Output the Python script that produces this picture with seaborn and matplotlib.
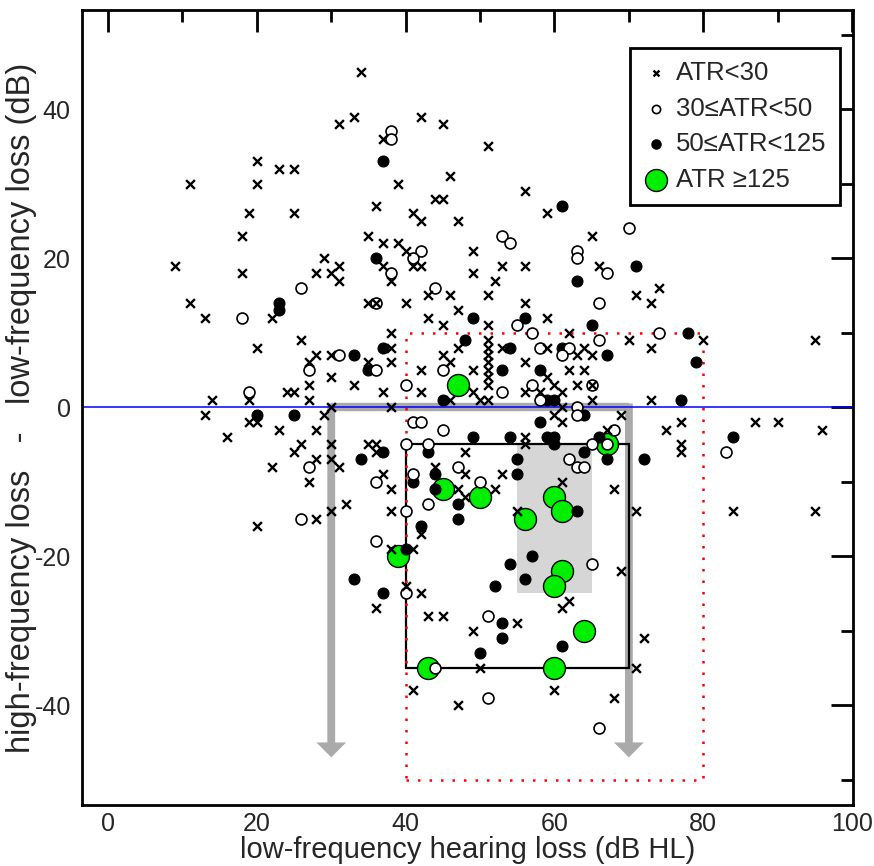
import matplotlib
matplotlib.use("Agg")
import matplotlib.pyplot as plt
import seaborn as sns
import pandas as pd
from matplotlib.patches import Rectangle
from matplotlib.ticker import MultipleLocator

# ---- data: (low-frequency loss, high-minus-low loss) ----
atr_lt30 = [
    (34, 45), (31, 38), (33, 39), (42, 39), (45, 38), (37, 36), (51, 35), (39, 30), (46, 31),
    (56, 29), (36, 27), (44, 28), (45, 28), (11, 30), (20, 33), (20, 30), (23, 32), (25, 32),
    (19, 26), (25, 26), (18, 23), (9, 19), (18, 18), (29, 20), (28, 18), (30, 18), (31, 19),
    (31, 17), (11, 14), (13, 12), (22, 12), (20, 8), (26, 9), (28, 7), (27, 6), (30, 7), (30, 4),
    (27, 3), (24, 2), (25, 2), (14, 1), (19, 1), (27, 1), (13, -1), (19, -2), (20, -2), (29, -1),
    (30, 0), (23, -3), (28, -3), (16, -4), (26, -5), (25, -6), (30, -5), (28, -7), (30, -7),
    (31, -8), (22, -8), (27, -10), (28, -15), (30, -14), (20, -16),
    (41, 26), (42, 25), (47, 25), (59, 26), (35, 23), (37, 22), (39, 22), (40, 21), (41, 19),
    (42, 19), (37, 19), (38, 17), (49, 21), (49, 18), (53, 19), (56, 19), (52, 17), (43, 15),
    (46, 15), (51, 15), (35, 14), (36, 14), (40, 14), (56, 14), (47, 13), (43, 12), (59, 12),
    (45, 11), (51, 11), (38, 10), (62, 10), (47, 8), (51, 9), (51, 8), (51, 7), (51, 6), (51, 5),
    (51, 4), (51, 3), (38, 8), (53, 8), (59, 8), (63, 7), (64, 8), (65, 7), (35, 6), (38, 6),
    (45, 7), (46, 6), (42, 5), (49, 5), (59, 4), (60, 3), (61, 2), (62, 5), (64, 5), (56, 6),
    (56, 2), (63, 3), (33, 3), (37, 2), (42, 2), (49, 2), (58, 2), (65, 3),
    (46, 1), (50, 1), (51, 1), (61, 0), (60, -1), (61, -2), (38, 0), (56, -4), (56, -5), (48, -6),
    (35, -5), (36, -5), (36, -6), (48, -9), (53, -9), (44, -8), (37, -9), (38, -11), (47, -11),
    (48, -12), (52, -11), (32, -13), (38, -14), (42, -17), (61, -10), (55, -14), (38, -19),
    (41, -19), (40, -24), (42, -25), (62, -26),
    (36, -27), (43, -28), (45, -28), (55, -29), (49, -30), (50, -35), (61, -27), (41, -38),
    (47, -40), (60, -38), (72, -31), (71, -35), (68, -39),
    (65, 1), (73, 1), (69, -1), (67, -3), (75, -3), (77, -2), (77, -5), (77, -6), (87, -2),
    (90, -2), (96, -3), (68, -11), (71, -14), (84, -14), (95, -14), (69, -22),
    (65, 23), (66, 19), (74, 16), (71, 15), (73, 14), (70, 9), (80, 9), (73, 8), (95, 9),
]
atr_30_50 = [
    (38, 37), (38, 36), (26, 16), (18, 12), (27, 5), (19, 2), (31, 7), (27, -8), (26, -15),
    (53, 23), (54, 22), (42, 21), (41, 20), (38, 18), (44, 16), (36, 14), (55, 11), (57, 10),
    (58, 8), (62, 8), (61, 7), (36, 5), (45, 5), (57, 3), (40, 3), (53, 2), (65, 3),
    (70, 24), (63, 21), (63, 20), (67, 18), (66, 14), (66, 9), (74, 10),
    (58, 1), (63, 0), (63, -1), (41, -2), (42, -2), (45, -3), (40, -5), (43, -5), (62, -7),
    (63, -8), (64, -8), (47, -8), (41, -9), (36, -10), (50, -10), (43, -13), (40, -14),
    (36, -18), (40, -25), (65, -21), (51, -28), (44, -35), (51, -39), (66, -43),
    (68, -3), (65, -5), (67, -5), (83, -6),
]
atr_50_125 = [
    (37, 33), (61, 27), (23, 14), (23, 13), (20, -1), (25, -1),
    (36, 20), (63, 17), (49, 12), (56, 12), (65, 11), (48, 9), (37, 8), (54, 8), (61, 8),
    (33, 7), (35, 5), (53, 5), (58, 5), (45, 1), (59, 1), (60, 1),
    (71, 19), (78, 10), (67, 7), (79, 6), (77, 1),
    (58, -2), (49, -4), (54, -4), (59, -4), (60, -4), (60, -5), (43, -6), (37, -6), (34, -7),
    (55, -7), (55, -9), (64, -6), (44, -9), (41, -10), (44, -11), (47, -13), (47, -15),
    (42, -16), (63, -14), (40, -19), (33, -23), (37, -25), (57, -20), (54, -21), (56, -23),
    (52, -24), (53, -29), (53, -31), (50, -33), (61, -32),
    (64, -1), (66, -4), (67, -7), (72, -7), (84, -4),
]
atr_ge125 = [
    (47, 3), (45, -11), (50, -12), (60, -12), (61, -14), (56, -15), (39, -20), (61, -22),
    (60, -24), (64, -30), (43, -35), (60, -35), (67, -5),
]

labels = ["ATR<30", "30\u2264ATR<50", "50\u2264ATR<125", "ATR \u2265125"]

sns.set_style("white")
plt.rcParams["font.family"] = ["Liberation Sans", "DejaVu Sans"]
plt.rcParams["axes.unicode_minus"] = False

fig = plt.figure(figsize=(8.74, 8.66), dpi=100)
ax = fig.add_axes([0.0938, 0.0704, 0.882, 0.918])

def frame(pts):
    return pd.DataFrame(pts, columns=["lf", "diff"])

# background shapes
ax.add_patch(Rectangle((55, -25), 10, 20, facecolor="#d6d6d6", edgecolor="none", zorder=1))
ax.plot([30, 70], [0, 0], color="#aaaaaa", lw=6, solid_capstyle="butt", zorder=1.5)
for xa in (30, 70):
    ax.arrow(xa, 0.5, 0, -47.5, width=1.05, head_width=4.0, head_length=2.0,
             length_includes_head=True, color="#aaaaaa", lw=0, zorder=1.5)
ax.axhline(0, color="#0000ff", lw=1.1, zorder=2)
ax.add_patch(Rectangle((40, -35), 30, 30, facecolor="none", edgecolor="black", lw=1.6, zorder=2))
ax.add_patch(Rectangle((40, -50), 40, 60, facecolor="none", edgecolor="red", lw=1.8,
                       linestyle=(0, (1, 3.6)), zorder=2))

# points: green first, then the rest on top
sns.scatterplot(data=frame(atr_ge125), x="lf", y="diff", ax=ax, s=250, color="#00ee00",
                edgecolor="black", linewidth=1.0, label=labels[3], zorder=3)
sns.scatterplot(data=frame(atr_50_125), x="lf", y="diff", ax=ax, s=62, color="black",
                edgecolor="black", linewidth=0.8, label=labels[2], zorder=4)
sns.scatterplot(data=frame(atr_30_50), x="lf", y="diff", ax=ax, s=62, color="white",
                edgecolor="black", linewidth=1.2, label=labels[1], zorder=4)
sns.scatterplot(data=frame(atr_lt30), x="lf", y="diff", ax=ax, s=40, marker="x",
                color="black", linewidth=1.7, label=labels[0], zorder=5)

ax.set_xlim(-3.5, 100.1)
ax.set_ylim(-53.4, 53.3)
ax.xaxis.set_major_locator(MultipleLocator(20))
ax.xaxis.set_minor_locator(MultipleLocator(10))
ax.yaxis.set_major_locator(MultipleLocator(20))
ax.yaxis.set_minor_locator(MultipleLocator(10))
ax.tick_params(which="both", direction="in", top=True, right=True, width=2, color="black",
               labelsize=18)
ax.tick_params(which="major", length=16)
ax.tick_params(which="minor", length=8.5)
ax.tick_params(axis="x", pad=5)
ax.tick_params(axis="y", pad=8)
for sp in ax.spines.values():
    sp.set_linewidth(2)
    sp.set_color("black")

ax.set_xlabel("low-frequency hearing loss (dB HL)", fontsize=21, labelpad=0)
ax.set_ylabel("high-frequency loss   -   low-frequency loss (dB)", fontsize=23.5, labelpad=-2)

handles, labs = ax.get_legend_handles_labels()
order = [labs.index(l) for l in labels]
leg = ax.legend([handles[i] for i in order], [labs[i] for i in order],
                loc="upper right", bbox_to_anchor=(0.983, 0.952), borderaxespad=0,
                fontsize=18.5, frameon=True, fancybox=False, framealpha=1,
                edgecolor="black", labelspacing=0.45, handletextpad=0.3,
                handlelength=1.0, borderpad=0.5)
leg.get_frame().set_linewidth(2)
leg.set_zorder(10)
for h, sz in zip(leg.legend_handles, [18, 35, 45, 250]):
    h.set_sizes([sz])

fig.savefig("out.png", dpi=100)
